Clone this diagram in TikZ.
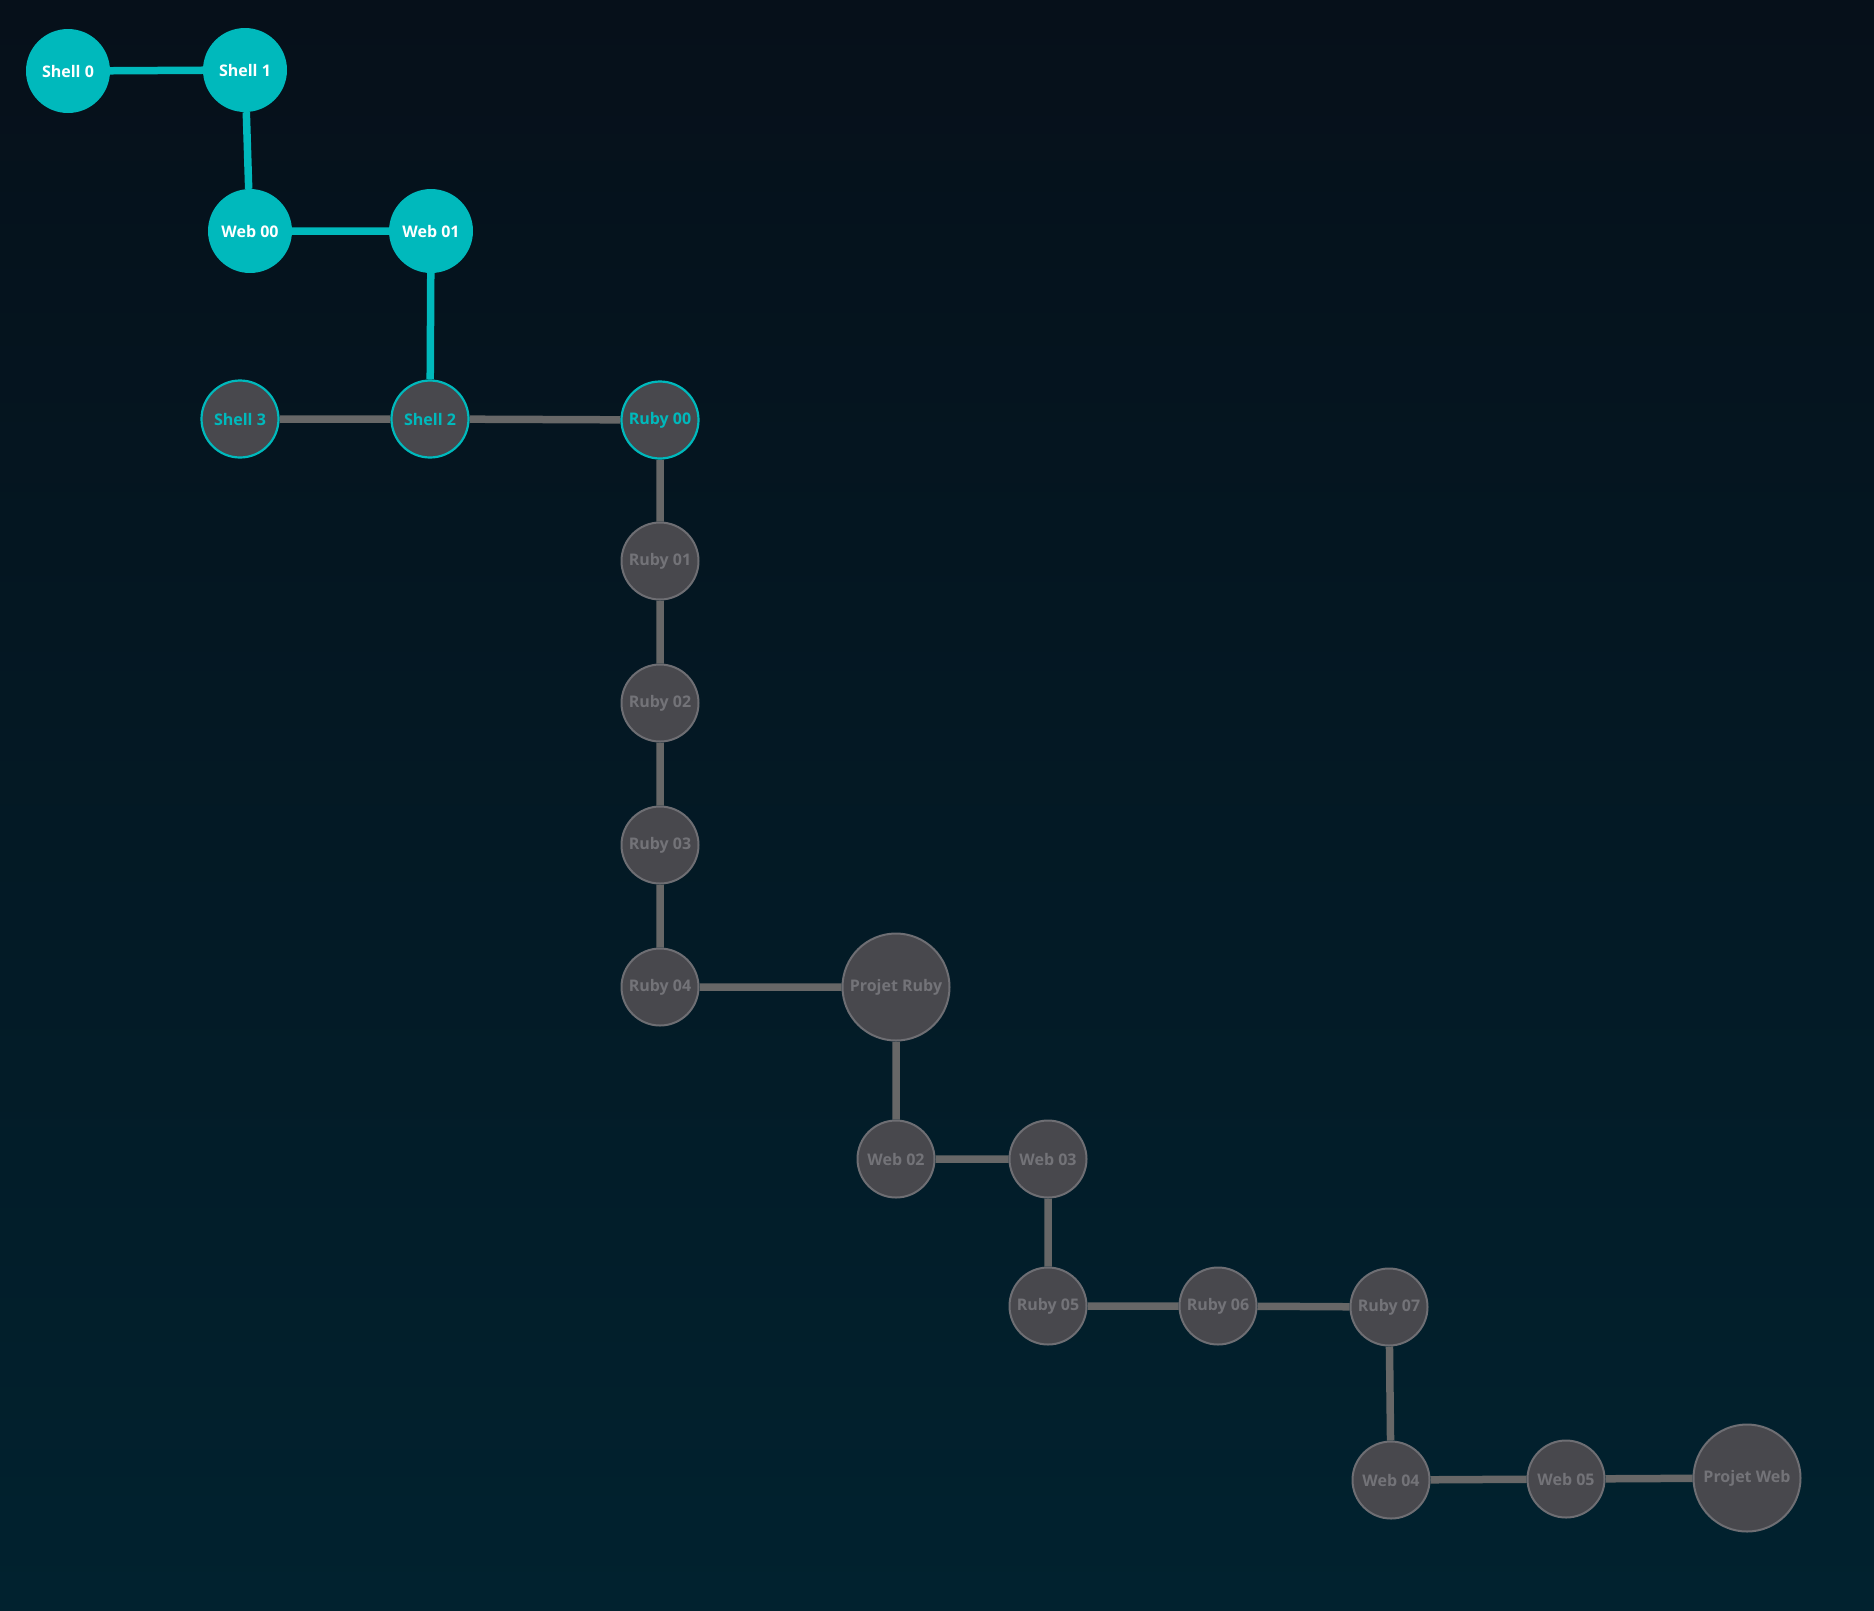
\documentclass[tikz,border=0pt]{standalone}
\usepackage{fontspec}
\setmainfont{Open Sans}
\usetikzlibrary{backgrounds}

\definecolor{doneteal}{HTML}{00B9BC}
\definecolor{nodegray}{HTML}{48484D}
\definecolor{rimgray}{HTML}{6E6E73}
\definecolor{labelgray}{HTML}{737378}
\definecolor{linkgray}{HTML}{676767}
\definecolor{bgtop}{HTML}{06101A}
\definecolor{bgbottom}{HTML}{01222F}

\tikzset{
  lesson/.style={circle,inner sep=0pt,font=\bfseries\fontsize{16}{19}\selectfont},
  done/.style={lesson,fill=doneteal,text=white,minimum size=84pt},
  current/.style={lesson,fill=nodegray,draw=doneteal,line width=2.2pt,text=doneteal,minimum size=77pt},
  todo/.style={lesson,fill=nodegray,draw=rimgray,line width=2pt,text=labelgray,minimum size=77pt},
  project/.style={todo,minimum size=107pt},
  donelink/.style={draw=doneteal,line width=7.5pt},
  link/.style={draw=linkgray,line width=7.5pt}
}

\begin{document}
\begin{tikzpicture}[x=1pt,y=-1pt]
\path[use as bounding box] (0,0) rectangle (1874,1610);
% finished lessons
\node[done] (shell0) at (68,71) {Shell 0};
\node[done] (shell1) at (245,70) {Shell 1};
\node[done] (web00) at (250,231) {Web 00};
\node[done] (web01) at (431,231) {Web 01};
% open lessons
\node[current] (shell3) at (240,419) {Shell 3};
\node[current] (shell2) at (430,419) {Shell 2};
\node[current] (ruby00) at (660,420) {Ruby 00};
% still locked
\node[todo] (ruby01) at (660,561) {Ruby 01};
\node[todo] (ruby02) at (660,703) {Ruby 02};
\node[todo] (ruby03) at (660,845) {Ruby 03};
\node[todo] (ruby04) at (660,987) {Ruby 04};
\node[project] (projruby) at (896,987) {Projet Ruby};
\node[todo] (web02) at (896,1159) {Web 02};
\node[todo] (web03) at (1048,1159) {Web 03};
\node[todo] (ruby05) at (1048,1306) {Ruby 05};
\node[todo] (ruby06) at (1218,1306) {Ruby 06};
\node[todo] (ruby07) at (1389,1307) {Ruby 07};
\node[todo] (web04) at (1391,1480) {Web 04};
\node[todo] (web05) at (1566,1479) {Web 05};
\node[project] (projweb) at (1747,1478) {Projet Web};

\begin{scope}[on background layer]
\shade[top color=bgtop,bottom color=bgbottom] (0,0) rectangle (1874,1610);
\draw[donelink] (shell0) -- (shell1) -- (web00) -- (web01) -- (shell2);
\draw[link] (shell3) -- (shell2) -- (ruby00) -- (ruby01) -- (ruby02) -- (ruby03) -- (ruby04) -- (projruby);
\draw[link] (projruby) -- (web02) -- (web03) -- (ruby05) -- (ruby06) -- (ruby07) -- (web04) -- (web05) -- (projweb);
\end{scope}
\end{tikzpicture}
\end{document}
